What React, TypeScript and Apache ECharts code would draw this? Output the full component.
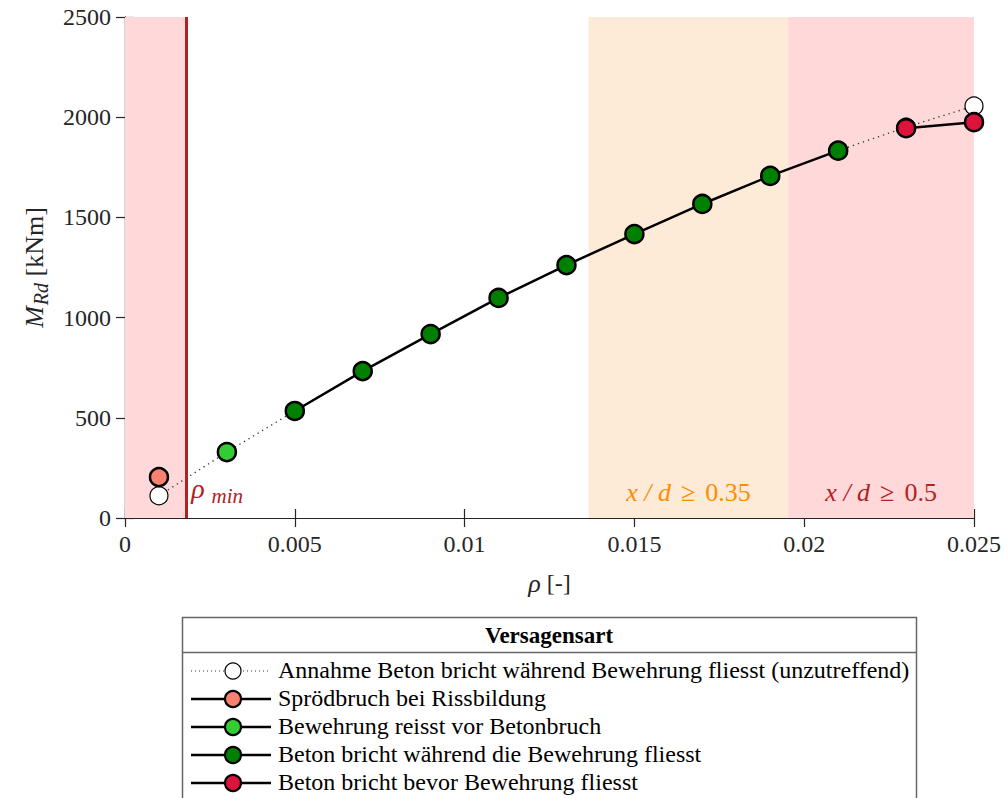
import React, { useEffect, useRef } from 'react';
import * as echarts from 'echarts';

// ---- data ----
const rhoAll = [0.001, 0.003, 0.005, 0.007, 0.009, 0.011, 0.013, 0.015, 0.017, 0.019, 0.021, 0.023, 0.025];
const mAssumed = [111, 329, 534, 733, 918, 1098, 1262, 1417, 1567, 1707, 1833, 1950, 2056];
const brittleRho = [0.001];
const brittleM = [204];
const ruptureRho = [0.003];
const ruptureM = [329];
const ductileRho = [0.005, 0.007, 0.009, 0.011, 0.013, 0.015, 0.017, 0.019, 0.021];
const ductileM = [534, 733, 918, 1098, 1262, 1417, 1567, 1707, 1833];
const crushRho = [0.023, 0.025];
const crushM = [1945, 1975];
const rhoMin = 0.0018;
const band35 = [0.01365, 0.01953];
const band50 = [0.01953, 0.025];
const xMin = 0, xMax = 0.025, xStep = 0.005;
const yMin = 0, yMax = 2500, yStep = 500;

const legendNames = [
  'Annahme Beton bricht während Bewehrung fliesst (unzutreffend)',
  'Sprödbruch bei Rissbildung',
  'Bewehrung reisst vor Betonbruch',
  'Beton bricht während die Bewehrung fliesst',
  'Beton bricht bevor Bewehrung fliesst',
];
const legendColors = ['#FFFFFF', '#FA8072', '#32CD32', '#008000', '#DC143C'];

const FONT = 'Liberation Serif';
const AX = '#262626';

const zip = (a: number[], b: number[]) => a.map((v, i) => [v, b[i]]);

export default function App() {
  const ref = useRef<HTMLDivElement>(null);
  useEffect(() => {
    const chart = echarts.init(ref.current!, null, { renderer: 'svg' });
    const axisCommon = {
      axisLine: { show: true, lineStyle: { color: AX, width: 1.2 } },
      axisTick: { show: true, inside: true, length: 9, lineStyle: { color: AX, width: 1.2 } },
      splitLine: { show: false },
    };
    const markerSeries = (name: string, data: number[][], color: string, showLine: boolean) => ({
      name,
      type: 'line',
      data,
      symbol: 'circle',
      symbolSize: 18,
      showSymbol: true,
      lineStyle: { color: '#000', width: showLine ? 2.5 : 0 },
      itemStyle: { color, borderColor: '#000', borderWidth: 2.5 },
      z: 5,
    });
    const bandLabel = (val: string, color: string) => ({
      show: true,
      position: 'insideBottom',
      distance: 13,
      formatter: `{i|x / d}{g|≥}{n|${val}}`,
      color,
      fontFamily: FONT,
      fontSize: 26,
      rich: {
        n: { fontFamily: FONT, fontSize: 26, color },
        g: { fontFamily: FONT, fontSize: 26, color, padding: [0, 10, 0, 10] },
        i: { fontStyle: 'italic', fontFamily: FONT, fontSize: 26, color },
      },
    });
    const option: any = {
      animation: false,
      backgroundColor: '#fff',
      textStyle: { fontFamily: FONT },
      grid: { left: 125, right: 30, top: 17, bottom: 280 },
      xAxis: [
        {
          type: 'value', min: xMin, max: xMax, interval: xStep, position: 'bottom',
          ...axisCommon,
          axisLabel: { color: AX, fontFamily: FONT, fontSize: 24, margin: 14, formatter: (v: number) => String(+v.toFixed(3)) },
          name: '{i|ρ}{n| [-]}', nameLocation: 'middle', nameGap: 52,
          nameTextStyle: {
            color: AX, fontFamily: FONT, fontSize: 24,
            rich: {
              i: { fontStyle: 'italic', fontFamily: FONT, fontSize: 26, color: AX },
              n: { fontFamily: FONT, fontSize: 24, color: AX },
            },
          },
        },
        {
          type: 'value', min: xMin, max: xMax, interval: xStep, position: 'top',
          ...axisCommon, axisLabel: { show: false },
        },
      ],
      yAxis: [
        {
          type: 'value', min: yMin, max: yMax, interval: yStep, position: 'left',
          ...axisCommon,
          axisLabel: { color: AX, fontFamily: FONT, fontSize: 24, margin: 14, formatter: (v: number) => String(v) },
          name: '{i|M}{s|Rd}{n| [kNm]}', nameLocation: 'middle', nameGap: 74,
          nameTextStyle: {
            color: AX, fontFamily: FONT, fontSize: 26,
            rich: {
              i: { fontStyle: 'italic', fontFamily: FONT, fontSize: 26, color: AX },
              s: { fontStyle: 'italic', fontFamily: FONT, fontSize: 20, color: AX, padding: [14, 0, 0, 1] },
              n: { fontFamily: FONT, fontSize: 26, color: AX },
            },
          },
        },
        {
          type: 'value', min: yMin, max: yMax, interval: yStep, position: 'right',
          ...axisCommon, axisLabel: { show: false },
        },
      ],
      series: [
        {
          name: legendNames[0],
          type: 'line',
          data: zip(rhoAll, mAssumed),
          symbol: 'circle',
          symbolSize: 18,
          lineStyle: { color: '#333', width: 1.3, type: [1.3, 4] },
          itemStyle: { color: '#fff', borderColor: '#000', borderWidth: 1.2 },
          z: 3,
          markArea: {
            silent: true,
            data: [
              [{ xAxis: xMin, itemStyle: { color: '#FFD8DA' } }, { xAxis: rhoMin }],
              [{ xAxis: band35[0], itemStyle: { color: '#FDEBD8' }, label: bandLabel('0.35', '#FF8C00') }, { xAxis: band35[1] }],
              [{ xAxis: band50[0], itemStyle: { color: '#FFD8DA' }, label: bandLabel('0.5', '#B22222') }, { xAxis: band50[1] }],
            ],
          },
          markLine: {
            silent: true,
            symbol: 'none',
            label: { show: false },
            lineStyle: { color: '#B22222', width: 3, type: 'solid' },
            data: [[{ coord: [rhoMin, yMin] }, { coord: [rhoMin, yMax] }]],
          },
        },
        markerSeries(legendNames[1], zip(brittleRho, brittleM), legendColors[1], false),
        markerSeries(legendNames[2], zip(ruptureRho, ruptureM), legendColors[2], false),
        markerSeries(legendNames[3], zip(ductileRho, ductileM), legendColors[3], true),
        markerSeries(legendNames[4], zip(crushRho, crushM), legendColors[4], true),
      ],
    };
    chart.setOption(option);

    const p = chart.convertToPixel({ xAxisIndex: 0, yAxisIndex: 0 }, [rhoMin, 0]) as number[];
    const boxX = 182, boxY = 617, boxW = 734, boxH = 200;
    const rowY = [671, 699, 727, 755, 783];
    const legendEls: any[] = [
      { type: 'rect', shape: { x: boxX + 0.5, y: boxY + 0.5, width: boxW, height: boxH }, style: { fill: '#fff', stroke: '#666', lineWidth: 1.5 }, z: 10 },
      { type: 'line', shape: { x1: boxX, y1: 652.5, x2: boxX + boxW, y2: 652.5 }, style: { stroke: '#666', lineWidth: 1.5 }, z: 11 },
      { type: 'text', x: boxX + boxW / 2, y: 635, style: { text: 'Versagensart', fontFamily: FONT, fontSize: 23, fontWeight: 'bold', fill: '#000', align: 'center', verticalAlign: 'middle' }, z: 11 },
    ];
    legendNames.forEach((n, i) => {
      const y = rowY[i];
      legendEls.push({
        type: 'line', shape: { x1: 191, y1: y, x2: 271, y2: y },
        style: i === 0 ? { stroke: '#333', lineWidth: 1, lineDash: [1, 3] } : { stroke: '#000', lineWidth: 2.5 }, z: 11,
      });
      legendEls.push({
        type: 'circle', shape: { cx: 233, cy: y, r: 8 },
        style: { fill: legendColors[i], stroke: '#000', lineWidth: i === 0 ? 1.2 : 2.2 }, z: 12,
      });
      legendEls.push({
        type: 'text', x: 278, y: y - 1,
        style: { text: n, fontFamily: FONT, fontSize: 24, fill: '#000', align: 'left', verticalAlign: 'middle' }, z: 11,
      });
    });
    chart.setOption({
      graphic: [
        {
          type: 'text', x: p[0] + 5, y: p[1] - 12,
          style: {
            text: '{r|ρ}{s|min}', align: 'left', verticalAlign: 'bottom',
            rich: {
              r: { fontFamily: FONT, fontStyle: 'italic', fontSize: 28, fill: '#B22222' },
              s: { fontFamily: FONT, fontStyle: 'italic', fontSize: 21, fill: '#B22222', padding: [14, 0, 0, 7] },
            },
          },
          z: 20,
        },
        ...legendEls,
      ],
    });
    return () => chart.dispose();
  }, []);
  return <div ref={ref} style={{ position: 'fixed', left: 0, top: 0, width: 1004, height: 798 }} />;
}
